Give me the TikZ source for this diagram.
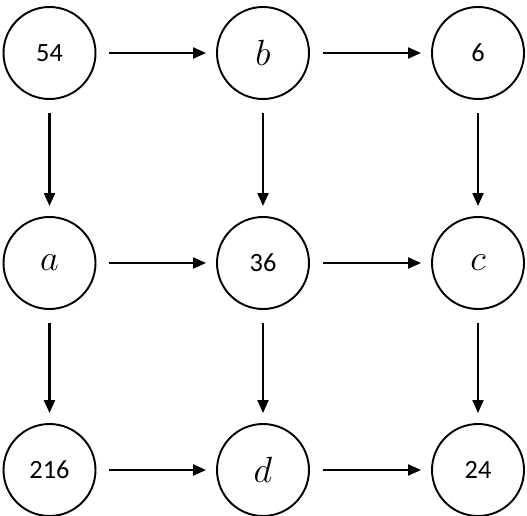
\documentclass[tikz,border=0pt]{standalone}
\usepackage{fontspec}
\usepackage{amsmath}
\setmainfont{Carlito}
\usetikzlibrary{arrows.meta}

\tikzset{
  vtx/.style={draw,shape=circle,line width=1.1pt,minimum size=1.84cm,inner sep=0pt,font=\fontsize{15}{18}\selectfont},
  link/.style={line width=1.2pt,-{Triangle[length=0.26cm,width=0.22cm]},shorten <=0.26cm,shorten >=0.2cm}
}
\newcommand{\vname}[1]{\fontsize{20}{24}\selectfont$#1$}

\begin{document}
\begin{tikzpicture}
   \useasboundingbox (0,0) rectangle (10.54,10.3);
   % first row
   \path (0.99,9.24) node[vtx] (n54) {54};
   \path (5.26,9.24) node[vtx] (nb) {\vname{b}};
   \path (9.56,9.24) node[vtx] (n6) {6};
   % second row
   \path (0.99,5.04) node[vtx] (na) {\vname{a}};
   \path (5.26,5.04) node[vtx] (n36) {36};
   \path (9.56,5.04) node[vtx] (nc) {\vname{c}};
   % third row
   \path (0.99,0.9) node[vtx] (n216) {216};
   \path (5.26,0.9) node[vtx] (nd) {\vname{d}};
   \path (9.56,0.9) node[vtx] (n24) {24};

   \draw[link] (n54) -- (nb);
   \draw[link] (nb) -- (n6);
   \draw[link] (na) -- (n36);
   \draw[link] (n36) -- (nc);
   \draw[link] (n216) -- (nd);
   \draw[link] (nd) -- (n24);

   \draw[link] (n54) -- (na);
   \draw[link] (na) -- (n216);
   \draw[link] (nb) -- (n36);
   \draw[link] (n36) -- (nd);
   \draw[link] (n6) -- (nc);
   \draw[link] (nc) -- (n24);
\end{tikzpicture}
\end{document}
